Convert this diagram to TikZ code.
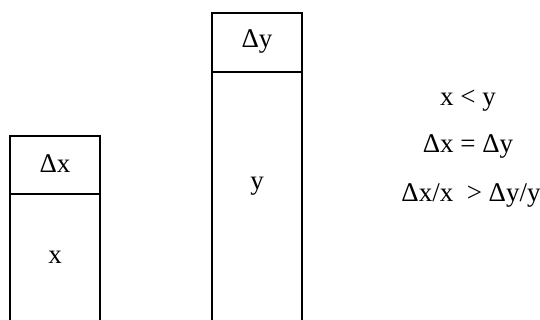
\documentclass[tikz,border=0pt]{standalone}
\usepackage{fontspec}
\setmainfont{Liberation Serif}
\usetikzlibrary{positioning}

\begin{document}
\begin{tikzpicture}[x=0.5pt,y=-0.5pt,line width=0.7pt,
    lbl/.style={inner sep=0pt,font=\fontsize{13.5}{16}\selectfont}]
    \useasboundingbox (0,0) rectangle (540,320);

    % small column
    \draw (10,320) -- (10,136) -- (100,136) -- (100,320);
    \draw (10,194) -- (100,194);
    \node[lbl] (dx) at (55,164) {Δx};
    \node[lbl] (x) at (55,257) {x};

    % tall column
    \draw (212,320) -- (212,13) -- (302,13) -- (302,320);
    \draw (212,72) -- (302,72);
    \node[lbl] (dy) at (257,42) {Δy};
    \node[lbl] (y) at (257,186) {y};

    % relations
    \node[lbl] (rel1) at (468,101) {x < y};
    \node[lbl] (rel2) at (468,147) {Δx = Δy};
    \node[lbl] (rel3) at (471,196) {Δx/x \ > Δy/y};
\end{tikzpicture}
\end{document}
